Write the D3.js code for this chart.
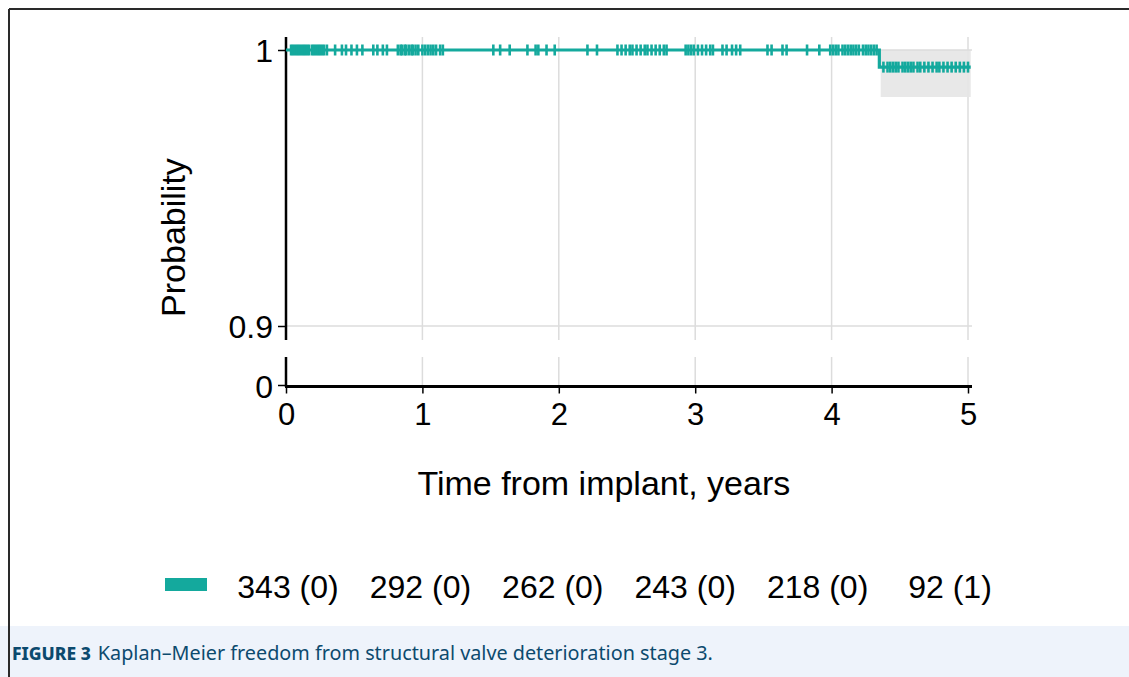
<!DOCTYPE html>
<html>
<head>
<meta charset="utf-8">
<script src="https://cdn.jsdelivr.net/npm/d3@7"></script>
<style>
  html, body { margin: 0; padding: 0; background: #fff; }
  svg { display: block; }
</style>
</head>
<body>
<svg id="chart" width="1129" height="677"></svg>
<script>
// ---------------- DATA ----------------
const xTicks = [0, 1, 2, 3, 4, 5];
const yTicksUpper = [0.9, 1];
const yTicksLower = [0];
// Kaplan-Meier step curve
const kmTimes = [0, 4.35, 5.02];
const kmSurv = [1, 0.9938, 0.9938];
// confidence band after the event
const ciTimes = [4.36, 5.02];
const ciLower = [0.983, 0.983];
const ciUpper = [1.0, 1.0];
// censoring times (years)
const censorTimes = [
  0.037, 0.051, 0.066, 0.081, 0.095, 0.110, 0.125, 0.139, 0.154, 0.169, 0.191, 0.205, 0.220, 0.235, 0.249, 0.264, 0.279,
  0.30, 0.36, 0.41, 0.44, 0.48, 0.52, 0.56, 0.64, 0.67, 0.71, 0.74,
  0.82, 0.84, 0.85, 0.87, 0.88, 0.90, 0.92, 0.93, 0.95, 0.97, 1.00, 1.02, 1.04, 1.06, 1.08, 1.10, 1.13, 1.15,
  1.52, 1.57, 1.64, 1.77, 1.83, 1.85, 1.91, 1.97,
  2.21, 2.28,
  2.43, 2.46, 2.49, 2.52, 2.54, 2.57, 2.60, 2.63, 2.65, 2.68, 2.71, 2.74, 2.77, 2.79,
  2.93, 2.95, 2.97, 2.99, 3.02, 3.05, 3.08, 3.11, 3.13,
  3.20, 3.23, 3.27, 3.30, 3.33,
  3.53, 3.56, 3.64, 3.67, 3.82, 3.91,
  3.99, 4.01, 4.03, 4.05, 4.08, 4.10, 4.12, 4.14, 4.16, 4.18, 4.20, 4.23, 4.25, 4.27, 4.29, 4.31, 4.33,
  4.38, 4.41, 4.43, 4.45, 4.47, 4.49, 4.52, 4.54, 4.56, 4.58, 4.60, 4.63, 4.65, 4.68, 4.71, 4.74, 4.77, 4.79,
  4.82, 4.85, 4.88, 4.91, 4.94, 4.97, 5.00
];
// number at risk (events)
const riskTimes = [0, 1, 2, 3, 4, 5];
const riskN = [343, 292, 262, 243, 218, 92];
const riskEvents = [0, 0, 0, 0, 0, 1];
const xTitle = "Time from implant, years";
const yTitle = "Probability";
const captionLabel = "FIGURE 3";
const captionText = "Kaplan\u2013Meier freedom from structural valve deterioration stage 3.";

// ---------------- STYLE ----------------
const teal = "#14a99d";
const gridCol = "#dcdcdc";
const font = "'Liberation Sans', Arial, sans-serif";

const svg = d3.select("#chart");

// scales
const x = d3.scaleLinear().domain([0, 5]).range([286, 968]);
const yU = d3.scaleLinear().domain([0.9, 1]).range([326, 50]);
const yL = d3.scaleLinear().domain([0, 0.01]).range([385, 357]);
const xr = d3.scaleLinear().domain([0, 5]).range([288, 950]);

// caption band
svg.append("rect").attr("x", 0).attr("y", 626).attr("width", 1129).attr("height", 51).attr("fill", "#eef3fb");

// frame
svg.append("line").attr("x1", 9).attr("x2", 1129).attr("y1", 9).attr("y2", 9).attr("stroke", "#2a2a2a").attr("stroke-width", 2);
svg.append("line").attr("x1", 9).attr("x2", 9).attr("y1", 9).attr("y2", 677).attr("stroke", "#2a2a2a").attr("stroke-width", 2);

const upTop = yU(1) - 13, upBot = yU(0.9) + 14;
const loTop = yL.range()[1], loBot = yL(0);
const xEnd = x(5) + 4;

// grid: vertical
xTicks.filter(d => d > 0).forEach(t => {
  svg.append("line").attr("x1", x(t)).attr("x2", x(t)).attr("y1", upTop).attr("y2", upBot)
    .attr("stroke", gridCol).attr("stroke-width", 1.5);
  svg.append("line").attr("x1", x(t)).attr("x2", x(t)).attr("y1", loTop).attr("y2", loBot)
    .attr("stroke", gridCol).attr("stroke-width", 1.5);
});

// CI band
const area = d3.area()
  .x((d, i) => x(ciTimes[i]))
  .y0((d, i) => yU(ciLower[i]))
  .y1((d, i) => yU(ciUpper[i]));
svg.append("path").datum(ciTimes).attr("d", area).attr("fill", "#e6e6e6").attr("opacity", 0.9);

// grid: horizontal
yTicksUpper.forEach(v => {
  svg.append("line").attr("x1", x(0)).attr("x2", xEnd).attr("y1", yU(v)).attr("y2", yU(v))
    .attr("stroke", gridCol).attr("stroke-width", 1.5);
});

// axes
const yAxisU = d3.axisLeft(yU).tickValues(yTicksUpper).tickFormat(d => d === 1 ? "1" : d3.format(".1f")(d)).tickSize(8).tickPadding(5);
const gyU = svg.append("g").attr("transform", `translate(${x(0)},0)`).call(yAxisU);
gyU.select(".domain").remove();
gyU.selectAll("line").attr("stroke", "#000").attr("stroke-width", 1.5);
gyU.selectAll("text").attr("font-family", font).attr("font-size", 32).attr("fill", "#000").attr("dy", "0.36em");
svg.append("line").attr("x1", x(0)).attr("x2", x(0)).attr("y1", upTop).attr("y2", upBot).attr("stroke", "#000").attr("stroke-width", 2.5);

const yAxisL = d3.axisLeft(yL).tickValues(yTicksLower).tickFormat(d3.format("d")).tickSize(8).tickPadding(5);
const gyL = svg.append("g").attr("transform", `translate(${x(0)},0)`).call(yAxisL);
gyL.select(".domain").remove();
gyL.selectAll("line").attr("stroke", "#000").attr("stroke-width", 1.5);
gyL.selectAll("text").attr("font-family", font).attr("font-size", 32).attr("fill", "#000").attr("dy", "0.4em");
svg.append("line").attr("x1", x(0)).attr("x2", x(0)).attr("y1", loTop).attr("y2", loBot + 2).attr("stroke", "#000").attr("stroke-width", 2.5);

const xAxis = d3.axisBottom(x).tickValues(xTicks).tickFormat(d3.format("d")).tickSize(7).tickPadding(9);
const gx = svg.append("g").attr("transform", `translate(0,${loBot + 1.5})`).call(xAxis);
gx.select(".domain").remove();
gx.selectAll("line").attr("stroke", "#000").attr("stroke-width", 1.5);
gx.selectAll("text").attr("font-family", font).attr("font-size", 31).attr("fill", "#000");
svg.append("line").attr("x1", x(0) - 1).attr("x2", xEnd).attr("y1", loBot + 1.5).attr("y2", loBot + 1.5).attr("stroke", "#000").attr("stroke-width", 3);

// KM curve
const line = d3.line().x((d, i) => x(kmTimes[i])).y((d, i) => yU(kmSurv[i])).curve(d3.curveStepAfter);
svg.append("path").datum(kmTimes).attr("d", line).attr("fill", "none").attr("stroke", teal).attr("stroke-width", 3.2);

// censoring ticks
const survAt = t => { let s = kmSurv[0]; kmTimes.forEach((kt, i) => { if (t >= kt) s = kmSurv[i]; }); return s; };
svg.append("g").selectAll("line").data(censorTimes).join("line")
  .attr("x1", d => x(d)).attr("x2", d => x(d))
  .attr("y1", d => yU(survAt(d)) - 5.5).attr("y2", d => yU(survAt(d)) + 5.5)
  .attr("stroke", teal).attr("stroke-width", 2.6);

// titles
svg.append("text").attr("x", x(2.33)).attr("y", 495).attr("text-anchor", "middle")
  .attr("font-family", font).attr("font-size", 34).attr("fill", "#000").text(xTitle);
svg.append("text").attr("transform", `translate(185,${(upTop + upBot) / 2 + 49}) rotate(-90)`).attr("text-anchor", "middle")
  .attr("font-family", font).attr("font-size", 34).attr("fill", "#000").text(yTitle);

// risk table
svg.append("rect").attr("x", 165).attr("y", 578).attr("width", 42).attr("height", 13).attr("fill", teal);
svg.append("g").selectAll("text").data(riskTimes).join("text")
  .attr("x", d => xr(d)).attr("y", 598).attr("text-anchor", "middle")
  .attr("font-family", font).attr("font-size", 32).attr("fill", "#000")
  .text((d, i) => `${riskN[i]} (${riskEvents[i]})`);

// caption
const cap = svg.append("text").attr("x", 12).attr("y", 660).attr("font-family", "'Noto Sans', 'Open Sans', sans-serif")
  .attr("fill", "#0c4a6e");
cap.append("tspan").attr("font-weight", 800).attr("font-size", 17.5).text(captionLabel);
cap.append("tspan").attr("dx", 7).attr("font-size", 19.8).text(captionText);
</script>
</body>
</html>
